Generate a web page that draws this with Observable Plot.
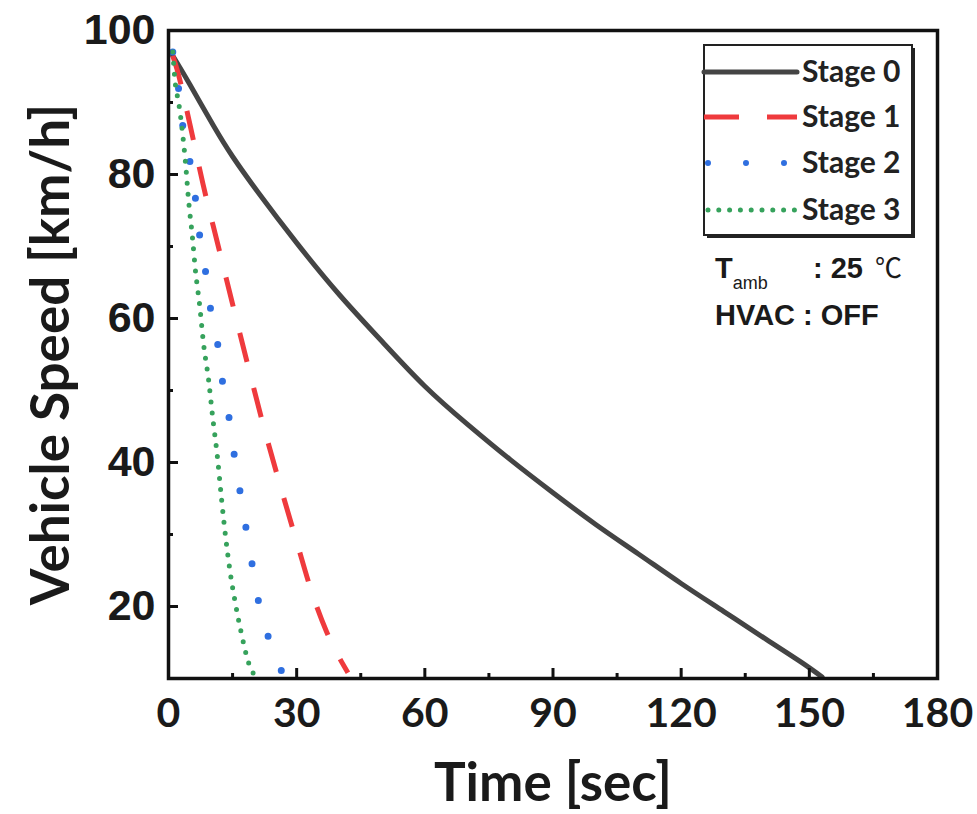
<!DOCTYPE html>
<html>
<head>
<meta charset="utf-8">
<script src="https://cdn.jsdelivr.net/npm/d3@7"></script>
<script src="https://cdn.jsdelivr.net/npm/@observablehq/plot@0.6"></script>
<style>
  html, body { margin: 0; padding: 0; background: #fff; }
  #chart svg { display: block; }
</style>
</head>
<body>
<div id="chart"></div>
<script>
// ---- Data (time [s], speed [km/h]) ----
const stage0 = [[1,96.5],[5,92.5],[10.5,86.8],[15,82.5],[21,77.5],[30,70.5],[40,63.3],[50,56.8],[60,50.6],[70,45.3],[80,40.4],[90,35.8],[100,31.4],[110,27.3],[120,23.2],[130,19.3],[140,15.4],[148,12.3],[153,10.2]];
const stage1 = [[1,96.5],[2,94.6],[5,87],[8.1,78.6],[11.5,70.4],[15,62],[18.5,53.7],[22.1,45.4],[26,37.1],[30,29],[33.8,21.5],[37,16.5],[39.7,13.2],[42,10.8]];
const stage2 = [[1,97],[2.4,91.7],[3.4,86.5],[5.1,81.5],[6.3,76.7],[7.3,71.5],[8.7,66.4],[9.8,61.5],[11.5,56.5],[12.6,51.4],[14.1,46.5],[15.3,41.4],[16.6,36.5],[18,31.4],[19.4,26.5],[20.8,21.5],[22.9,16.7],[25.5,12.2],[26.5,11]];
const stage3 = [[1,97],[1.6,92.6],[2.4,89.9],[3.3,85.7],[4,81.5],[4.7,76.4],[5.6,71.3],[6.3,66.7],[7.3,61.8],[8.2,56.5],[9.4,51.4],[10.3,46.5],[11.5,40.5],[12.4,35],[13.4,29.5],[14.5,24.5],[15.7,20.3],[16.9,16.7],[18.8,12.1],[20.4,10.2]];
const seriesNames = ["Stage 0", "Stage 1", "Stage 2", "Stage 3"];
const xMajor = [0, 30, 60, 90, 120, 150, 180];
const xMinor = [15, 45, 75, 105, 135, 165];
const yMajor = [20, 40, 60, 80, 100];
const yMinor = [30, 50, 70, 90];
const xTitle = "Time [sec]";
const yTitle = "Vehicle Speed [km/h]";

// ---- Layout & styles ----
const W = 977, H = 814, mL = 168, mR = 40, mT = 30, mB = 136;
const xDom = [0, 180], yDom = [10, 100];
const plotW = W - mL - mR, plotH = H - mT - mB;
// inward tick lengths converted from pixels to data units via the frame size
const yTick = (px) => (yDom[1] - yDom[0]) * px / plotH;
const xTick = (px) => (xDom[1] - xDom[0]) * px / plotW;

const styles = [
  {stroke: "#444444", strokeWidth: 5, dash: null, cap: "round", legendDash: null, curve: "natural"},
  {stroke: "#ef3a3d", strokeWidth: 5, dash: "30 27", cap: "butt", legendDash: "35 28", curve: "monotone-x"},
  {stroke: "#2f6fe0", strokeWidth: 7, dash: "0 37", cap: "round", legendDash: "0 38", curve: "monotone-x"},
  {stroke: "#36a25c", strokeWidth: 5, dash: "0 11", cap: "round", legendDash: "0 10.8", curve: "monotone-x"}
];
const allSeries = [stage0, stage1, stage2, stage3];

const lineMarks = allSeries.map((data, i) => Plot.line(data, {
  x: d => d[0], y: d => d[1],
  stroke: styles[i].stroke, strokeWidth: styles[i].strokeWidth,
  strokeDasharray: styles[i].dash, strokeLinecap: styles[i].cap,
  strokeLinejoin: "round", curve: styles[i].curve
}));

const tickStyle = {stroke: "#111", strokeWidth: 3};

const chart = Plot.plot({
  width: W, height: H,
  marginLeft: mL, marginRight: mR, marginTop: mT, marginBottom: mB,
  x: {domain: xDom},
  y: {domain: yDom},
  marks: [
    ...lineMarks,
    Plot.ruleX(xMajor, {x: d => d, y1: yDom[0], y2: yDom[0] + yTick(10), ...tickStyle}),
    Plot.ruleX(xMinor, {x: d => d, y1: yDom[0], y2: yDom[0] + yTick(5), ...tickStyle}),
    Plot.ruleY(yMajor, {y: d => d, x1: xDom[0], x2: xDom[0] + xTick(10), ...tickStyle}),
    Plot.ruleY(yMinor, {y: d => d, x1: xDom[0], x2: xDom[0] + xTick(5), ...tickStyle}),
    Plot.axisX(xMajor, {anchor: "bottom", tickSize: 0, tickPadding: 19, fontSize: 41, fontFamily: "Lato", fontWeight: "bold", fill: "#1a1a1a", label: null}),
    Plot.axisY(yMajor, {anchor: "left", tickSize: 0, tickPadding: 13, fontSize: 43, fontFamily: "Liberation Sans", fontWeight: "bold", fill: "#1a1a1a", label: null}),
    Plot.frame({stroke: "#111", strokeWidth: 3.5}),
    Plot.text([xTitle], {text: d => d, frameAnchor: "bottom", dy: 122, lineAnchor: "bottom", fontSize: 53, fontFamily: "Lato", fontWeight: "bold", fill: "#1a1a1a"}),
    Plot.text([yTitle], {text: d => d, frameAnchor: "left", dx: -116, rotate: -90, lineAnchor: "middle", textAnchor: "middle", fontSize: 53, fontFamily: "Lato", fontWeight: "bold", fill: "#1a1a1a"})
  ]
});
document.getElementById("chart").appendChild(chart);

// ---- Legend & annotation inside the plot (pixel layout relative to frame) ----
const xs = chart.scale("x"), ys = chart.scale("y");
const frameRight = xs.apply(xDom[1]), frameTop = ys.apply(yDom[1]);
const svg = d3.select(chart);
const lg = svg.append("g").attr("text-anchor", "start");
const bx = frameRight - 233, by = frameTop + 15, bw = 208, bh = 190;
lg.append("rect").attr("x", bx + 3).attr("y", by + 3).attr("width", bw).attr("height", bh).attr("fill", "#222");
lg.append("rect").attr("x", bx).attr("y", by).attr("width", bw).attr("height", bh).attr("fill", "#fff").attr("stroke", "#222").attr("stroke-width", 2);
const rowY = [27, 72, 118, 165];
seriesNames.forEach((name, i) => {
  const y = by + rowY[i];
  const st = styles[i];
  lg.append("line").attr("x1", bx + (i >= 2 ? 4 : 0)).attr("x2", bx + 93).attr("y1", y).attr("y2", y)
    .attr("stroke", st.stroke).attr("stroke-width", i === 2 ? 6 : st.strokeWidth)
    .attr("stroke-dasharray", st.legendDash).attr("stroke-linecap", st.cap);
  lg.append("text").attr("x", bx + 98).attr("y", y + 10)
    .attr("font-family", "Lato").attr("font-weight", "bold").attr("font-size", 30).attr("fill", "#222")
    .text(name);
});
const ax = bx + 11;
const t1 = lg.append("text").attr("x", ax).attr("y", by + 233)
  .attr("font-family", "Liberation Sans").attr("font-weight", "bold").attr("font-size", 29).attr("fill", "#1a1a1a");
t1.append("tspan").text("T");
t1.append("tspan").attr("font-size", 18).attr("font-weight", "normal").attr("dy", 11).text("amb");
lg.append("text").attr("x", bx + 109).attr("y", by + 233)
  .attr("font-family", "Liberation Sans").attr("font-weight", "bold").attr("font-size", 29).attr("fill", "#1a1a1a")
  .text(": 25");
lg.append("text").attr("x", bx + 171).attr("y", by + 233)
  .attr("font-family", "Noto Sans CJK SC").attr("font-size", 27).attr("fill", "#1a1a1a")
  .text("℃");
lg.append("text").attr("x", ax).attr("y", by + 280)
  .attr("font-family", "Liberation Sans").attr("font-weight", "bold").attr("font-size", 29).attr("fill", "#1a1a1a")
  .text("HVAC : OFF");
</script>
</body>
</html>
